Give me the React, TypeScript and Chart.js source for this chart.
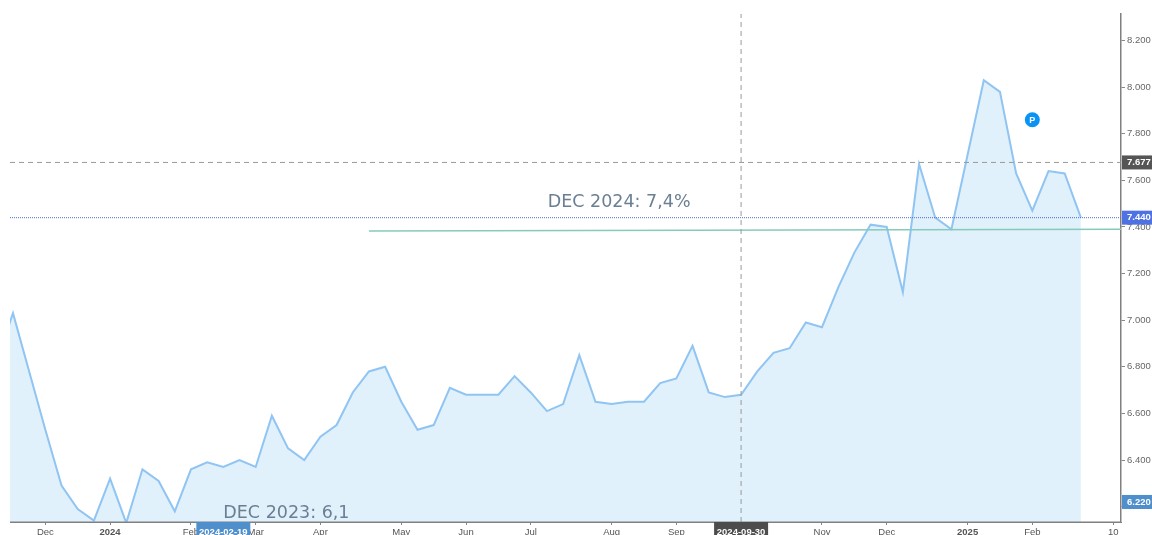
import React, { useEffect, useRef } from "react";
import { Chart, registerables } from "chart.js";

Chart.register(...registerables);

const priceValues = [6830, 7030, 6780, 6530, 6290, 6190, 6140, 6320, 6130, 6360, 6310, 6180, 6360, 6390, 6370, 6400, 6370, 6590, 6450, 6400, 6500, 6550, 6690, 6780, 6800, 6650, 6530, 6550, 6710, 6680, 6680, 6680, 6760, 6690, 6610, 6640, 6850, 6650, 6640, 6650, 6650, 6730, 6750, 6890, 6690, 6670, 6680, 6780, 6860, 6880, 6990, 6970, 7140, 7290, 7410, 7400, 7120, 7670, 7440, 7390, 7710, 8030, 7980, 7630, 7470, 7640, 7630, 7440];
const firstWeek = -1;
const xTickWeeks = [2, 6, 11, 15, 19, 24, 28, 32, 37, 41, 45, 50, 54, 59, 63, 68];
const xTickLabels = ["Dec", "2024", "Feb", "Mar", "Apr", "May", "Jun", "Jul", "Aug", "Sep", "Oct", "Nov", "Dec", "2025", "Feb", "10"];
const boldLabels = ["2024", "2025"];
const yTicks = [6200, 6400, 6600, 6800, 7000, 7200, 7400, 7600, 7800, 8000, 8200];
const xMin = -0.185;
const xMax = 68.48;
const yMin = 6134;
const yMax = 8314;
const crosshairWeek = 45;
const crosshairDate = "2024-09-30";
const hoverWeek = 13;
const hoverDate = "2024-02-19";
const crosshairPrice = 7677;
const lastPrice = 7440;
const lowTagPrice = 6220;
const trendStart = { x: 22, y: 7383 };
const trendEnd = { x: xMax, y: 7390 };
const markerPoint = { x: 63, y: 7860 };
const noteHigh = { x: 33.05, y: 7486, text: "DEC 2024: 7,4%" };
const noteLow = { x: 13, y: 6151, text: "DEC 2023: 6,1" };

const fmt = (v: number) => (v / 1000).toFixed(3);
const FONT = '"Liberation Sans", Arial, sans-serif';

const overlay = {
  id: "overlay",
  afterDraw(chart: any) {
    const { ctx, scales, chartArea } = chart;
    const xs = scales.x;
    const ys = scales.y;

    // axis baseline stays above the area fill
    ctx.save();
    ctx.strokeStyle = "#808080";
    ctx.lineWidth = 1.5;
    ctx.beginPath();
    ctx.moveTo(chartArea.left, chartArea.bottom + 0.25);
    ctx.lineTo(chartArea.right, chartArea.bottom + 0.25);
    ctx.stroke();

    const xTag = (week: number, label: string, color: string) => {
      const cx = xs.getPixelForValue(week);
      ctx.fillStyle = color;
      ctx.fillRect(cx - 27, chartArea.bottom, 54, 14);
      ctx.fillStyle = "#ffffff";
      ctx.font = `bold 9.5px ${FONT}`;
      ctx.textAlign = "center";
      ctx.textBaseline = "middle";
      ctx.fillText(label, cx, chartArea.bottom + 10);
    };
    const yTag = (val: number, color: string) => {
      const cy = ys.getPixelForValue(val);
      ctx.fillStyle = color;
      ctx.fillRect(chartArea.right + 1, cy - 7, 31, 14);
      ctx.fillStyle = "#ffffff";
      ctx.font = `bold 9.5px ${FONT}`;
      ctx.textAlign = "left";
      ctx.textBaseline = "middle";
      ctx.fillText(fmt(val), chartArea.right + 6, cy);
    };

    xTag(hoverWeek, hoverDate, "#4f8fcb");
    xTag(crosshairWeek, crosshairDate, "#4d4d4d");
    yTag(crosshairPrice, "#555555");
    yTag(lastPrice, "#4f72e3");
    yTag(lowTagPrice, "#4f8fcb");

    ctx.fillStyle = "#6b7f92";
    ctx.font = `17.5px "DejaVu Sans", sans-serif`;
    ctx.textAlign = "left";
    ctx.textBaseline = "alphabetic";
    ctx.fillText(noteHigh.text, xs.getPixelForValue(noteHigh.x), ys.getPixelForValue(noteHigh.y));
    ctx.fillText(noteLow.text, xs.getPixelForValue(noteLow.x), ys.getPixelForValue(noteLow.y));

    ctx.fillStyle = "#ffffff";
    ctx.font = `bold 9px ${FONT}`;
    ctx.textAlign = "center";
    ctx.textBaseline = "middle";
    ctx.fillText("P", xs.getPixelForValue(markerPoint.x), ys.getPixelForValue(markerPoint.y) + 0.5);
    ctx.restore();
  },
};

export default function App() {
  const ref = useRef<HTMLCanvasElement>(null);

  useEffect(() => {
    const chart = new Chart(ref.current!, {
      type: "line",
      data: {
        datasets: [
          {
            data: [{ x: xMin, y: crosshairPrice }, { x: xMax, y: crosshairPrice }],
            borderColor: "#9a9a9a",
            borderWidth: 1,
            borderDash: [5, 4],
            pointRadius: 0,
            order: 1,
          },
          {
            data: [{ x: xMin, y: lastPrice }, { x: xMax, y: lastPrice }],
            borderColor: "#4f6cd8",
            borderWidth: 1,
            borderDash: [1, 1],
            pointRadius: 0,
            order: 1,
          },
          {
            data: [{ x: crosshairWeek, y: yMin }, { x: crosshairWeek, y: yMax }],
            borderColor: "#9a9a9a",
            borderWidth: 1,
            borderDash: [5, 4],
            pointRadius: 0,
            order: 1,
          },
          {
            data: [trendStart, trendEnd],
            borderColor: "#86cabb",
            borderWidth: 1.5,
            pointRadius: 0,
            order: 2,
          },
          {
            data: [markerPoint],
            showLine: false,
            pointRadius: 7.5,
            pointHoverRadius: 7.5,
            pointBackgroundColor: "#0a93f5",
            pointBorderWidth: 0,
            order: 0,
          },
          {
            data: priceValues.map((y, i) => ({ x: firstWeek + i, y })),
            borderColor: "#90c4f2",
            backgroundColor: "#e0f1fb",
            borderWidth: 2,
            pointRadius: 0,
            tension: 0,
            fill: "start",
            order: 3,
          },
        ] as any,
      },
      options: {
        animation: false,
        responsive: false,
        parsing: false as any,
        layout: { padding: { left: 10, top: 14, right: 0, bottom: 0 } },
        plugins: { legend: { display: false }, tooltip: { enabled: false } },
        scales: {
          x: {
            type: "linear",
            min: xMin,
            max: xMax,
            afterBuildTicks(axis: any) {
              axis.ticks = xTickWeeks.map((value) => ({ value }));
            },
            afterFit(axis: any) {
              axis.height = 13;
            },
            grid: { drawOnChartArea: false, drawTicks: true, tickLength: 3, color: "#888888" },
            border: { color: "#808080", width: 1 },
            ticks: {
              autoSkip: false,
              maxRotation: 0,
              padding: 2,
              color: "#555555",
              font: (c: any) => ({
                family: FONT,
                size: 9.5,
                weight: boldLabels.includes(xTickLabels[xTickWeeks.indexOf(c.tick?.value)]) ? "bold" : "normal",
              }),
              callback: (value: any) => xTickLabels[xTickWeeks.indexOf(value)],
            },
          },
          y: {
            type: "linear",
            position: "right",
            min: yMin,
            max: yMax,
            afterBuildTicks(axis: any) {
              axis.ticks = yTicks.map((value) => ({ value }));
            },
            afterFit(axis: any) {
              axis.width = 31;
            },
            grid: { drawOnChartArea: false, drawTicks: true, tickLength: 4, color: "#888888" },
            border: { color: "#808080", width: 1.5 },
            ticks: {
              padding: 2,
              color: "#666666",
              font: { family: FONT, size: 9.5 },
              callback: (value: any) => fmt(value),
            },
          },
        },
      } as any,
      plugins: [overlay],
    });
    return () => chart.destroy();
  }, []);

  return (
    <div style={{ position: "fixed", left: 0, top: 0, width: 1152, height: 535, background: "#ffffff" }}>
      <canvas ref={ref} width={1152} height={535} style={{ display: "block" }} />
    </div>
  );
}
